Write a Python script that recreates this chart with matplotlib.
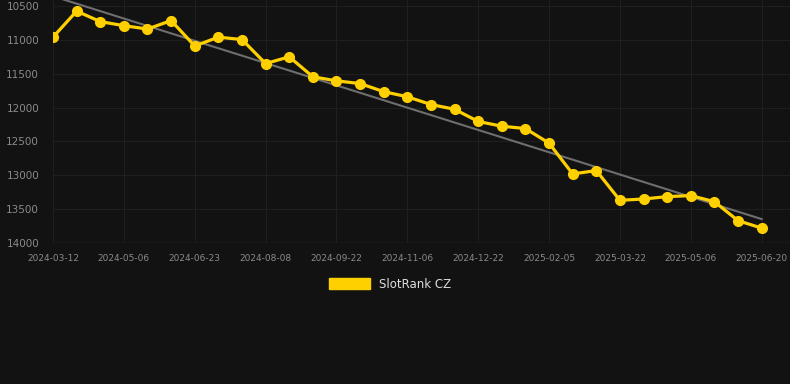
import numpy as np
import matplotlib
matplotlib.use("Agg")
import matplotlib.pyplot as plt
from matplotlib.patches import Patch

tick_labels = ["2024-03-12", "2024-05-06", "2024-06-23", "2024-08-08", "2024-09-22",
               "2024-11-06", "2024-12-22", "2025-02-05", "2025-03-22", "2025-05-06",
               "2025-06-20"]
ranks = [10960, 10575, 10730, 10790, 10840, 10715, 11090, 10960, 10995, 11350,
         11250, 11545, 11605, 11645, 11765, 11840, 11955, 12025, 12205, 12275,
         12310, 12525, 12980, 12930, 13370, 13350, 13315, 13300, 13390, 13670,
         13780]
series_name = "SlotRank CZ"

bg = "#121212"
gold = "#FFD000"

x = np.arange(len(ranks))
y = np.array(ranks)
k, b = np.polyfit(x, y, 1)

fig = plt.figure(figsize=(7.9, 3.84), dpi=100, facecolor=bg)
ax = fig.add_axes([53/790, 1-243/384, 1-53/790, 243/384])
ax.set_facecolor(bg)

ax.plot(x, k*x + b, color="#6e6e6e", lw=1.5, zorder=2)
ax.plot(x, y, color=gold, lw=2.3, marker="o", ms=7, zorder=3)

ax.set_xlim(0, 31.2)
ax.set_ylim(14000, 10411)
ax.set_yticks([10500, 11000, 11500, 12000, 12500, 13000, 13500, 14000])
ax.set_xticks(x[::3])
ax.set_xticklabels(tick_labels)
ax.tick_params(axis="y", colors="#8a8a8a", labelsize=7.5, length=0, pad=10)
ax.tick_params(axis="x", colors="#8a8a8a", labelsize=6.5, length=0, pad=8)
ax.grid(True, color="#1f1f1f", lw=0.8)
for s in ax.spines.values():
    s.set_visible(False)
ax.axhline(14000, color="#2e2e2e", lw=1, zorder=1)

leg = fig.legend(handles=[Patch(color=gold, label=series_name)],
                 loc="center", bbox_to_anchor=(390/790, 1-284/384), frameon=False,
                 handlelength=3.5, handleheight=1.0, fontsize=8.5, labelcolor="#dddddd")

fig.savefig("out.png", dpi=100, facecolor=bg)
